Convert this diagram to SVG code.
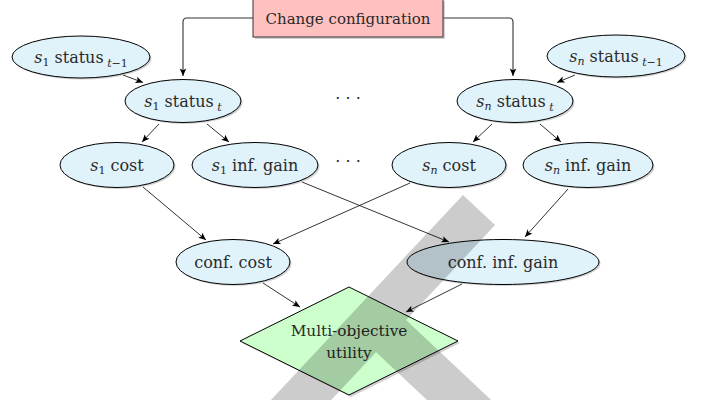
<svg xmlns="http://www.w3.org/2000/svg" width="702" height="400" viewBox="0 0 702 400">
<defs>
<marker id="ah" markerUnits="userSpaceOnUse" markerWidth="10" markerHeight="10" viewBox="-7 -4 8 8" refX="0" refY="0" orient="auto">
<path d="M0,0 L-6,-2.6 L-4.6,0 L-6,2.6 Z" fill="#000"/>
</marker>
</defs>
<style>
.n{fill:#e0f2fa;stroke:#000;stroke-width:1}
.sh{fill:#999;opacity:0.45}
.t{font-family:"DejaVu Serif",serif;font-size:16px;fill:#2a2a2a;text-anchor:middle}
.i{font-style:italic}
.sub{font-size:11px}
.c{fill:none;stroke:#000;stroke-width:0.8;marker-end:url(#ah)}
.f{fill:none;stroke:#333;stroke-width:1.1;marker-end:url(#ah)}
</style>
<rect width="702" height="400" fill="#fff"/>

<g id="connectors">
<path class="f" d="M253,18 H187 Q183,18 183,22 V76"/>
<path class="f" d="M443,18 H509 Q513,18 513,22 V76"/>
<path class="c" d="M123,75 L143,82.5"/>
<path class="c" d="M575,75 L557,82.5"/>
<path class="c" d="M159,124 L142,142"/>
<path class="c" d="M207,124 L229,142"/>
<path class="c" d="M492,124 L473,142"/>
<path class="c" d="M540,124 L561,142"/>
<path class="c" d="M143,187 L206,240"/>
<path class="c" d="M302,182 L449,242"/>
<path class="c" d="M410,183 L273,244"/>
<path class="c" d="M568,189 L525,237"/>
<path class="c" d="M263,283 L300,307"/>
<path class="c" d="M462,284 L406,312"/>
</g>

<g id="change">
<rect x="255" y="1" width="190" height="38" fill="#999" opacity="0.45"/>
<rect x="253" y="-1" width="190" height="38" fill="#ffc0c0" stroke="#333" stroke-width="1"/>
<text class="t" x="348" y="24" style="font-size:15px">Change configuration</text>
</g>

<g id="s1prev">
<ellipse class="sh" cx="82.5" cy="58.5" rx="69" ry="21"/>
<ellipse class="n" cx="81" cy="57" rx="69" ry="21"/>
<text class="t" x="81" y="63"><tspan class="i">s</tspan><tspan class="sub" dy="3">1</tspan><tspan dy="-3"> status</tspan><tspan class="sub i" dy="4"> t</tspan><tspan class="sub">−1</tspan></text>
</g>
<g id="s1t">
<ellipse class="sh" cx="184.5" cy="102.5" rx="58" ry="21.5"/>
<ellipse class="n" cx="183" cy="101" rx="58" ry="21.5"/>
<text class="t" x="183" y="107"><tspan class="i">s</tspan><tspan class="sub" dy="3">1</tspan><tspan dy="-3"> status</tspan><tspan class="sub i" dy="4"> t</tspan></text>
</g>
<g id="snprev">
<ellipse class="sh" cx="617.5" cy="57.5" rx="69" ry="21"/>
<ellipse class="n" cx="616" cy="56" rx="69" ry="21"/>
<text class="t" x="616" y="62"><tspan class="i">s</tspan><tspan class="sub i" dy="3">n</tspan><tspan dy="-3"> status</tspan><tspan class="sub i" dy="4"> t</tspan><tspan class="sub">−1</tspan></text>
</g>
<g id="snt">
<ellipse class="sh" cx="516.5" cy="102.5" rx="58" ry="21.5"/>
<ellipse class="n" cx="515" cy="101" rx="58" ry="21.5"/>
<text class="t" x="515" y="107"><tspan class="i">s</tspan><tspan class="sub i" dy="3">n</tspan><tspan dy="-3"> status</tspan><tspan class="sub i" dy="4"> t</tspan></text>
</g>
<g id="dots1"><text class="t" x="348" y="104">·  ·  ·</text></g>

<g id="s1cost">
<ellipse class="sh" cx="118.5" cy="166.5" rx="57" ry="22.5"/>
<ellipse class="n" cx="117" cy="165" rx="57" ry="22.5"/>
<text class="t" x="117" y="171"><tspan class="i">s</tspan><tspan class="sub" dy="3">1</tspan><tspan dy="-3"> cost</tspan></text>
</g>
<g id="s1gain">
<ellipse class="sh" cx="256.5" cy="166.5" rx="63" ry="22.5"/>
<ellipse class="n" cx="255" cy="165" rx="63" ry="22.5"/>
<text class="t" x="255" y="171" xml:space="preserve"><tspan class="i">s</tspan><tspan class="sub" dy="3">1</tspan><tspan dy="-3"> inf. gain</tspan></text>
</g>
<g id="dots2"><text class="t" x="348" y="167">·  ·  ·</text></g>
<g id="sncost">
<ellipse class="sh" cx="450.5" cy="166.5" rx="57" ry="22.5"/>
<ellipse class="n" cx="449" cy="165" rx="57" ry="22.5"/>
<text class="t" x="449" y="171"><tspan class="i">s</tspan><tspan class="sub i" dy="3">n</tspan><tspan dy="-3"> cost</tspan></text>
</g>
<g id="sngain">
<ellipse class="sh" cx="589.5" cy="166.5" rx="65" ry="22.5"/>
<ellipse class="n" cx="588" cy="165" rx="65" ry="22.5"/>
<text class="t" x="588" y="171" xml:space="preserve"><tspan class="i">s</tspan><tspan class="sub i" dy="3">n</tspan><tspan dy="-3"> inf. gain</tspan></text>
</g>

<g id="confcost">
<ellipse class="sh" cx="234.5" cy="263.5" rx="57" ry="22.5"/>
<ellipse class="n" cx="233" cy="262" rx="57" ry="22.5"/>
<text class="t" x="233" y="268" xml:space="preserve">conf. cost</text>
</g>
<g id="confgain">
<ellipse class="sh" cx="504.5" cy="263.5" rx="96" ry="22.5"/>
<ellipse class="n" cx="503" cy="262" rx="96" ry="22.5"/>
<text class="t" x="503" y="268" xml:space="preserve">conf. inf. gain</text>
</g>

<g id="utility">
<polygon points="351,289 460,343 351,397 242,343" fill="#999" opacity="0.45"/>
<polygon points="349,287 458,341 349,395 240,341" fill="#ccffcc" stroke="#000" stroke-width="1"/>
<text class="t" x="349" y="336" style="font-size:15.3px">Multi-objective</text>
<text class="t" x="349" y="358" style="font-size:15.3px">utility</text>
</g>

<path d="M479,210 L273,430 M375,321 L491,430" fill="none" stroke="#000" stroke-opacity="0.2" stroke-width="44"/>
</svg>
